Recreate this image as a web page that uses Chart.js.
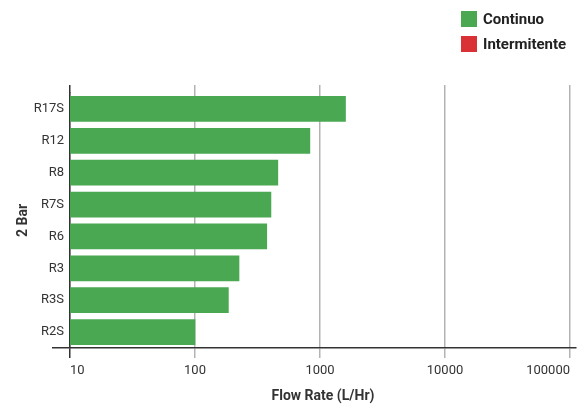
<!DOCTYPE html>
<html>
<head>
<meta charset="utf-8">
<script src="https://cdn.jsdelivr.net/npm/chart.js@4"></script>
<style>
  body { margin: 0; background: #fff; }
  #wrap { position: relative; width: 587px; height: 407px; }
  #legend { position: absolute; left: 461px; top: 6px; font: bold 15px Roboto, "Liberation Sans", sans-serif; color: #222; }
  #legend .item { display: flex; align-items: center; height: 25px; }
  #legend .box { width: 16px; height: 16px; margin-right: 6px; }
</style>
</head>
<body>
<div id="wrap">
  <canvas id="myChart" width="587" height="407"></canvas>
  <div id="legend"></div>
</div>
<script>
const categories = ["R17S", "R12", "R8", "R7S", "R6", "R3", "R3S", "R2S"]
const continuo = [1600, 830, 460, 405, 375, 225, 185, 100]
const intermitente = [null, null, null, null, null, null, null, null]
const xTicks = [10, 100, 1000, 10000, 100000]

const fontFamily = 'Roboto, "Liberation Sans", sans-serif'
const gridGray = "#b3b3b3"
const axisDark = "#333"

function keepDecades(scale) {
  scale.ticks = xTicks.map(v => ({ value: v }))
}

const ctx = document.getElementById("myChart")

const myChart = new Chart(ctx, {
  type: "bar",
  data: {
    labels: categories,
    datasets: [
      { label: "Continuo", data: continuo, backgroundColor: "#4aa853", barThickness: 25, grouped: false },
      { label: "Intermitente", data: intermitente, backgroundColor: "#d93136", barThickness: 25, grouped: false }
    ]
  },
  options: {
    indexAxis: "y",
    responsive: false,
    animation: false,
    layout: { padding: { top: 85, left: 7, right: 11, bottom: 0 } },
    plugins: {
      legend: { display: false },
      tooltip: { enabled: false }
    },
    scales: {
      x: {
        type: "logarithmic",
        position: "bottom",
        min: 10,
        max: 111700,
        afterBuildTicks: keepDecades,
        afterFit: s => { s.height = 59 },
        border: { color: axisDark, width: 1.5 },
        grid: {
          color: gridGray,
          lineWidth: 1.5,
          tickLength: 10,
          tickColor: c => c.index === 0 ? axisDark : gridGray
        },
        ticks: {
          align: "inner",
          padding: 5,
          color: "#333",
          font: { family: fontFamily, size: 13 },
          callback: v => String(v)
        },
        title: {
          display: true,
          text: "Flow Rate (L/Hr)",
          color: "#333",
          font: { family: fontFamily, size: 14, weight: "bold" },
          padding: { top: 4, bottom: 2 }
        }
      },
      x2: {
        type: "logarithmic",
        position: "top",
        min: 10,
        max: 111700,
        afterBuildTicks: keepDecades,
        border: { display: false },
        grid: {
          drawOnChartArea: false,
          lineWidth: 1.5,
          tickLength: 8,
          tickColor: c => c.index === 0 ? axisDark : gridGray
        },
        ticks: { display: false }
      },
      y: {
        afterFit: s => { s.width = 63 },
        border: { color: axisDark, width: 1.5 },
        grid: {
          drawOnChartArea: false,
          tickLength: 18,
          lineWidth: 1.5,
          tickColor: c => c.type === "scale" ? axisDark : "rgba(0,0,0,0)"
        },
        ticks: {
          padding: -12,
          color: "#333",
          font: { family: fontFamily, size: 13 }
        },
        title: {
          display: true,
          text: "2 Bar",
          color: "#333",
          font: { family: fontFamily, size: 14, weight: "bold" },
          padding: { top: 8, bottom: 4 }
        }
      }
    }
  }
})

// legend built from the datasets
const legend = document.getElementById("legend")
myChart.data.datasets.forEach(ds => {
  const item = document.createElement("div")
  item.className = "item"
  const box = document.createElement("span")
  box.className = "box"
  box.style.background = ds.backgroundColor
  const txt = document.createElement("span")
  txt.textContent = ds.label
  item.appendChild(box)
  item.appendChild(txt)
  legend.appendChild(item)
})
</script>
</body>
</html>
